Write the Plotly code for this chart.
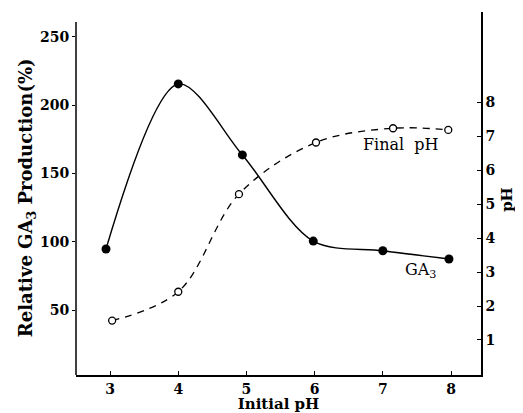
import plotly.graph_objects as go

# Data
initial_ph_ga3 = [2.94, 4.0, 4.94, 5.98, 7.0, 7.97]
ga3_relative = [94.7, 215.6, 163.6, 100.5, 93.4, 87.4]

initial_ph_final = [3.03, 4.0, 4.89, 6.02, 7.15, 7.96]
final_ph = [1.57, 2.42, 5.29, 6.81, 7.23, 7.18]

x_ticks = [3, 4, 5, 6, 7, 8]
left_ticks = [50, 100, 150, 200, 250]
right_ticks = [1, 2, 3, 4, 5, 6, 7, 8]

SERIF = "DejaVu Serif"
tickfont = dict(family=SERIF, size=14, color="black", weight="bold")

fig = go.Figure()

fig.add_trace(go.Scatter(
    x=initial_ph_ga3, y=ga3_relative, mode="lines+markers",
    line=dict(color="black", width=1.4, shape="spline", smoothing=0.9),
    marker=dict(color="black", size=9),
    showlegend=False, yaxis="y",
))

fig.add_trace(go.Scatter(
    x=initial_ph_final, y=final_ph, mode="lines+markers",
    line=dict(color="black", width=1.3, shape="spline", smoothing=1.0, dash="7px,6px"),
    marker=dict(color="white", size=7, line=dict(color="black", width=1.3)),
    showlegend=False, yaxis="y2",
))

# page has an 8px body margin, so the figure is sized/offset to compensate
fig.update_layout(
    width=515, height=405,
    margin=dict(l=68, r=42, t=4, b=38, autoexpand=False),
    paper_bgcolor="white", plot_bgcolor="white",
    font=dict(family=SERIF, color="black"),
    xaxis=dict(
        range=[2.5, 8.44], tickvals=x_ticks, ticktext=[str(v) for v in x_ticks],
        showgrid=False, zeroline=False, showline=True, linecolor="black", linewidth=1.5,
        ticks="inside", ticklen=4, tickcolor="black", tickfont=tickfont, automargin=False,
        title=dict(text="<b>Initial pH</b>", font=dict(family=SERIF, size=15, color="black"), standoff=2),
    ),
    yaxis=dict(
        range=[2.4, 268.3], tickvals=left_ticks, ticktext=[str(v) for v in left_ticks],
        showgrid=False, zeroline=False, showline=False, automargin=False,
        ticks="outside", ticklen=3, tickcolor="black", tickfont=tickfont,
    ),
    yaxis2=dict(
        range=[-0.03, 10.65], tickvals=right_ticks, ticktext=[str(v) for v in right_ticks],
        overlaying="y", side="right", automargin=False,
        showgrid=False, zeroline=False, showline=True, linecolor="black", linewidth=1.5,
        ticks="inside", ticklen=4, tickcolor="black", tickfont=tickfont,
    ),
    shapes=[
        dict(type="line", xref="paper", yref="y", x0=0, x1=0, y0=2.4, y1=261,
             line=dict(color="black", width=1.5)),
    ],
    annotations=[
        dict(text="<b>Relative GA<sub>3</sub> Production(%)</b>", xref="paper", yref="paper",
             x=-0.121, y=0.49, textangle=-90, showarrow=False,
             font=dict(family=SERIF, size=18, color="black"), xanchor="center", yanchor="middle"),
        dict(text="<b>pH</b>", xref="paper", yref="paper", x=1.064, y=0.485, textangle=-90,
             showarrow=False, font=dict(family=SERIF, size=15, color="black"),
             xanchor="center", yanchor="middle"),
        dict(text="Final\u00a0\u00a0pH", xref="x", yref="y2", x=7.27, y=6.75, showarrow=False,
             font=dict(family=SERIF, size=16, color="black"), xanchor="center", yanchor="middle"),
        dict(text="GA<sub>3</sub>", xref="x", yref="y", x=7.55, y=79.3, showarrow=False,
             font=dict(family=SERIF, size=16, color="black"), xanchor="center", yanchor="middle"),
    ],
)

fig.write_html("out.html")
